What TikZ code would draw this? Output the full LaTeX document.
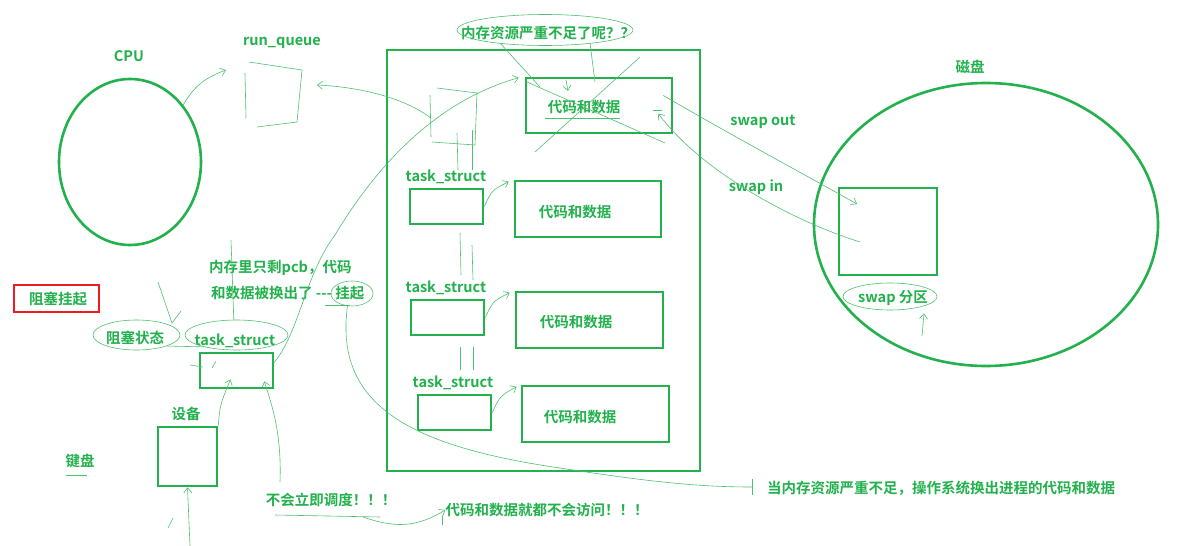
\documentclass[tikz,border=0pt]{standalone}
\usepackage{fontspec}
\setmainfont{Noto Sans CJK SC}[BoldFont={Noto Sans CJK SC Bold}]
\usetikzlibrary{shapes.geometric,arrows.meta,calc}
\definecolor{g}{HTML}{22B14C}
\definecolor{rd}{HTML}{ED1C24}
\begin{document}
\begin{tikzpicture}[x=1pt,y=-1pt,
  lbl/.style={text=g,font=\fontsize{14.5}{16}\selectfont\bfseries,inner sep=0},
  box/.style={draw=g,line width=2.6pt,inner sep=0},
  oval/.style={draw=g,line width=2.6pt,ellipse,inner sep=0},
  pen/.style={draw=g!80,line width=0.6pt},
  tip/.style={-{Straight Barb[length=5pt,width=8pt]}},
  ring/.style={pen,ellipse,inner sep=0}]
\useasboundingbox[fill=white] (0,0) rectangle (1200,546);

% ---------------- CPU and run queue
\node[lbl] (cpuL) at (129,56) {CPU};
\node[oval,minimum width=142,minimum height=166] (cpu) at (130,162) {};
\node[lbl] (rqL) at (282,43) {run\_queue};
\node[minimum width=57,minimum height=65,inner sep=0] (rq) at (274,95) {};
\draw[pen] (249,62) -- (302,70) -- (297,122) -- (257,127);
\draw[pen] (245,73) -- (246,118);
\coordinate (rqin) at (226,70);
\coordinate (rqE) at (317,85);
\draw[pen,tip] (cpu.47) .. controls (195,85) and (205,78) .. (rqin);

% ---------------- memory
\node[box,minimum width=313,minimum height=421] (mem) at (543.5,260.5) {};
\node[lbl] (q) at (548,33) {内存资源严重不足了呢？？};
\node[ring,minimum width=176,minimum height=31] (qr) at (545,30) {};

% hand-drawn pcb at the top
\node[minimum width=46,minimum height=53,inner sep=0] (ts1) at (454,118) {};
\draw[pen] (437,88) -- (477,93) -- (475,145) -- (432,142);
\draw[pen] (430,95) -- (431,137);
\draw[pen,tip] (ts1.west) .. controls (405,98) and (360,87) .. (rqE);

% code/data boxes
\node[box,minimum width=146,minimum height=55] (cd1) at (599,105.5) {};
\node[lbl] (t1) at (584,107) {代码和数据};
\draw[pen] (545,118) -- (620,118);
\draw[pen] (653,110) -- (662,110);
\node[box,minimum width=146,minimum height=56] (cd2) at (588,209) {};
\node[lbl] (t2) at (575,212) {代码和数据};
\node[box,minimum width=147,minimum height=56] (cd3) at (589.5,320) {};
\node[lbl] (t3) at (576,322) {代码和数据};
\node[box,minimum width=147,minimum height=56] (cd4) at (595.5,414) {};
\node[lbl] (t4) at (580,417) {代码和数据};

% task_structs in memory
\node[box,minimum width=73,minimum height=35] (ts2) at (446.5,206.5) {};
\node[lbl] (ts2L) at (446,177) {task\_struct};
\node[box,minimum width=73,minimum height=35] (ts3) at (447.5,317.5) {};
\node[lbl] (ts3L) at (446,288) {task\_struct};
\node[box,minimum width=73,minimum height=35] (ts4) at (454.5,412.5) {};
\node[lbl] (ts4L) at (453,383) {task\_struct};
\draw[pen,tip] (ts2.east) .. controls (492,190) .. ($(cd2.north west)+(-5,2)$);
\draw[pen,tip] (ts3.east) .. controls (493,301) .. ($(cd3.north west)+(-5,2)$);
\draw[pen,tip] (ts4.east) .. controls (500,396) .. ($(cd4.north west)+(-4,2)$);

% links of the list
\draw[pen] (457,133) -- (458,170);
\draw[pen] (472,130) -- (472,170);
\draw[pen] (460,233) -- (461,275);
\draw[pen] (472,245) -- (473,280);
\draw[pen] (460,347) -- (460,370);
\draw[pen] (473,347) -- (473,370);

% marks over the first code box
\draw[pen] (640,57) -- (535,152);
\draw[pen] (527,82) -- (665,143);
\draw[pen] (500,43) -- (540,87);
\draw[pen] (590,43) -- (595,82);
\draw[pen,tip] (566,80) -- (568,91);

% ---------------- disk
\node[lbl] (diskL) at (970,67) {磁盘};
\node[oval,minimum width=344,minimum height=283] (disk) at (986,224.5) {};
\node[box,minimum width=98,minimum height=87] (sw) at (888,231.5) {};
\node[lbl] (swp) at (893,298) {swap 分区};
\node[ring,minimum width=94,minimum height=27] (swr) at (890,296.5) {};
\coordinate (swa) at (922,336);
\draw[pen,tip] (swa) -- ($(swr.south)+(34,3)$);
\node[lbl] (so) at (763,122) {swap out};
\node[lbl] (si) at (756,187) {swap in};
\coordinate (soT) at (857,204);
\coordinate (siS) at (860,242);
\draw[pen,tip] ($(cd1.east)+(-10,-10)$) .. controls (740,140) and (800,172) .. (soT);
\draw[pen,tip] (siS) .. controls (790,220) and (700,170) .. ($(cd1.east)+(-15,8)$);

% ---------------- blocked process
\node[draw=rd,line width=2pt,minimum width=85,minimum height=27,inner sep=0] (zs) at (56.5,298.5) {};
\node[lbl] (zsL) at (58,299) {阻塞挂起};
\node[lbl] (zt) at (135,338) {阻塞状态};
\node[ring,minimum width=87,minimum height=30] (ztr) at (136.5,335) {};
\node[lbl] (tsbL) at (235,341) {task\_struct};
\node[ring,minimum width=103,minimum height=30] (tsbr) at (236.5,335) {};
\node[box,minimum width=73,minimum height=35] (tsb) at (236.5,370.5) {};
\draw[pen] (158,282) -- (172,323) -- (181,311);
\draw[pen] (ztr.-20) -- (tsbr.200);
\draw[pen] (190,365) -- (203,367);
\draw[pen] (216,361) -- (212,368);

\node[lbl,anchor=west] (m1) at (209,268) {内存里只剩pcb，代码};
\node[lbl,anchor=west] (m2) at (211,293) {和数据被换出了 -{}-{}- 挂起};
\node[ring,minimum width=42,minimum height=25] (gq) at (352,293.5) {};
\draw[pen] (231,240) -- (tsbr.100);
\draw[pen] (325,305) -- (350,305);

% swap-in of the suspended process
\draw[pen,tip] (tsb.12) .. controls (300,330) and (305,275) .. (335,235)
  .. controls (380,160) and (440,100) .. ($(cd1.north west)+(-6,1)$);

% suspension note
\node[lbl,anchor=west] (note) at (767,488) {当内存资源严重不足，操作系统换出进程的代码和数据};
\coordinate (tk) at (752,487);
\draw[pen] (gq.250) .. controls (335,400) and (400,445) .. (560,468)
  .. controls (650,482) and (700,487) .. (tk);
\draw[pen] (752,479) -- (752,495);

% device
\node[lbl] (devL) at (186,414) {设备};
\node[box,minimum width=59,minimum height=59] (dev) at (187.5,456.5) {};
\coordinate (kin) at (190,546);
\draw[pen,tip] (kin) -- (dev.south);
\draw[pen] (168,528) -- (173,518);
\node[lbl] (kb) at (80,461) {键盘};
\draw[pen] (66,475) -- (87,475);
\draw[pen,tip] (dev.north east) .. controls (220,405) .. ($(tsb.south)+(-6,-10)$);

% not scheduled
\node[lbl] (ns) at (331,500) {不会立即调度！！！};
\node[lbl] (na) at (547,510) {代码和数据就都不会访问！！！};
\draw[pen,tip] (280,482) .. controls (282,430) and (270,400) .. ($(tsb.south east)+(-10,-8)$);
\draw[pen] (275,515) -- (380,517);
\draw[pen,tip] (363,517) .. controls (400,530) and (420,525) .. (na.west);
\draw[pen] (442,516) -- (442,525);
\end{tikzpicture}
\end{document}
